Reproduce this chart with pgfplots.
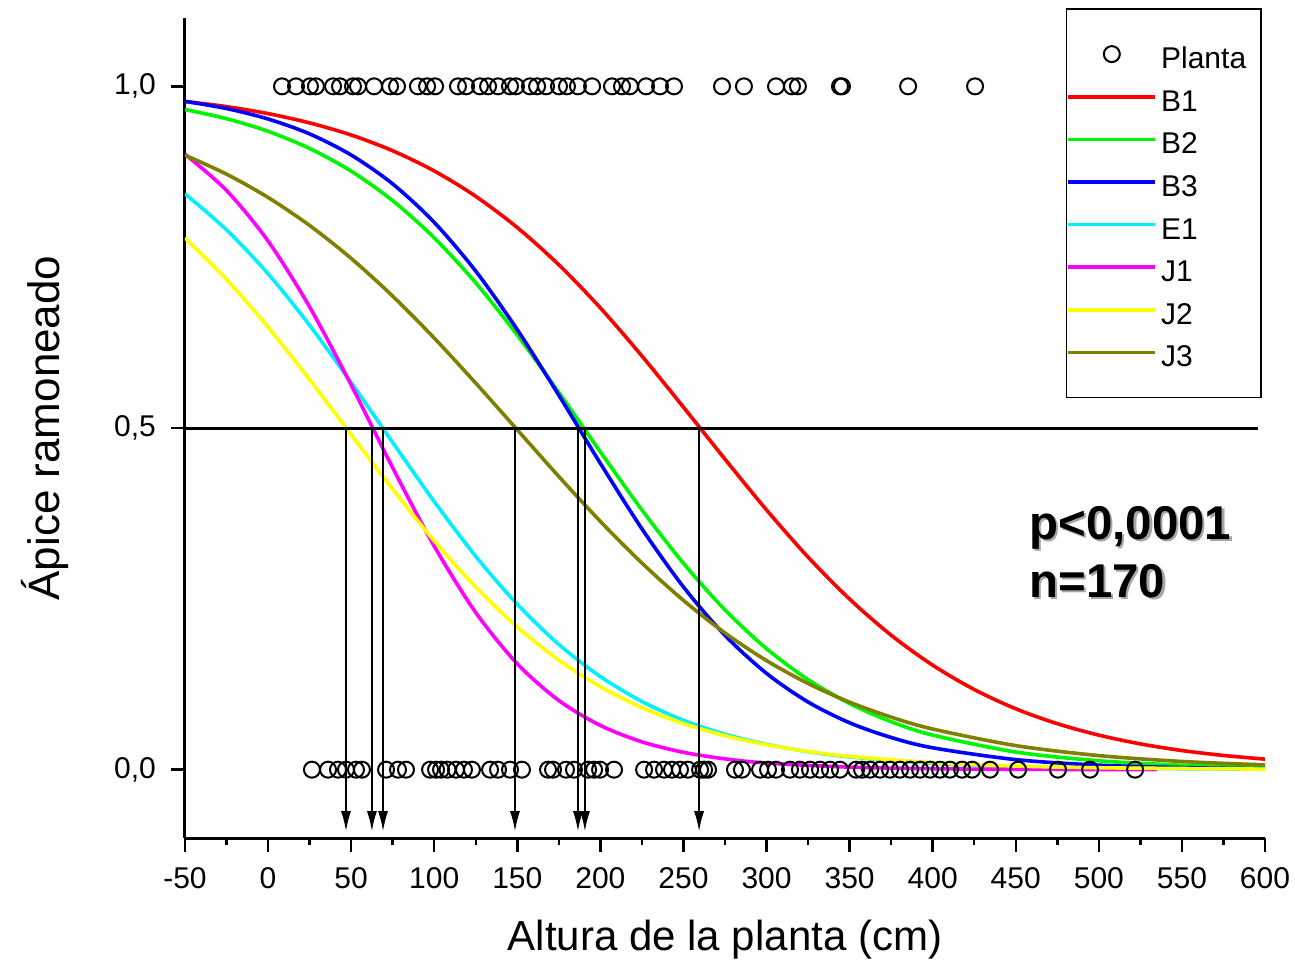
\documentclass[border=0pt]{standalone}
\usepackage{fontspec}
\setmainfont{Liberation Sans}
\usepackage{pgfplots}
\pgfplotsset{compat=1.18}
\usetikzlibrary{arrows.meta}
\definecolor{cB1}{RGB}{255,0,0}
\definecolor{cB2}{RGB}{0,245,0}
\definecolor{cB3}{RGB}{0,0,255}
\definecolor{cE1}{RGB}{0,240,255}
\definecolor{cJ1}{RGB}{255,0,255}
\definecolor{cJ2}{RGB}{255,255,0}
\definecolor{cJ3}{RGB}{128,128,0}
\begin{document}
\begin{tikzpicture}
\begin{axis}[name=ax, scale only axis, width=540pt, height=410pt,
 xmin=-50, xmax=600, ymin=-0.1, ymax=1.1,
 axis lines=left, axis line style={line width=1.5pt, -},
 xtick={-50,0,...,600}, minor xtick={-25,25,...,575},
 ytick={0,0.5,1},
 tick align=outside, major tick length=7pt, minor tick length=3.5pt,
 every tick/.style={black, line width=1.2pt},
 /pgf/number format/assume math mode=true,
 xticklabel style={font=\fontsize{15}{15}\selectfont, anchor=north, yshift=-4pt},
 yticklabel style={font=\fontsize{15}{15}\selectfont, anchor=east, xshift=-4pt,
   /pgf/number format/.cd, fixed, fixed zerofill, precision=1, use comma},
 xlabel={Altura de la planta (cm)},
 ylabel={Ápice ramoneado},
 xlabel style={font=\fontsize{21}{21}\selectfont, at={(axis description cs:0.5,-0.1244)}, anchor=center},
 ylabel style={font=\fontsize{22}{22}\selectfont, at={(axis description cs:-0.1296,0.5)}, anchor=center, rotate=0},
 legend image code/.code={\draw[mark repeat=2,mark phase=2,#1] plot coordinates {(0pt,0pt) (21.75pt,0pt) (43.5pt,0pt)};},
 legend cell align=left,
 legend style={at={(rel axis cs:1,1)}, anchor=north east, xshift=-1.5pt, yshift=5pt,
   draw=black, line width=0.8pt, inner xsep=0pt, inner ysep=12pt,
   font=\fontsize{15}{15}\selectfont,
   nodes={text height=14.5pt, text depth=0pt, inner ysep=3.4pt, inner xsep=2pt}},
]
\addplot[only marks, mark=o, black, mark size=4pt, mark options={line width=1pt}] coordinates {
(8.4,1) (16.8,1) (25.2,1) (28.8,1) (39.1,1) (43.3,1) (51.1,1) (54.1,1) (63.8,1) (73.4,1)
(77.6,1) (90.2,1) (95.7,1) (100.5,1) (114.3,1) (119.2,1) (127.5,1) (132.4,1) (138.4,1) (145.6,1)
(149.2,1) (157.6,1) (161.9,1) (167.3,1) (175.1,1) (179.9,1) (186.5,1) (195,1) (207,1) (213,1)
(217.8,1) (227.5,1) (235.9,1) (244.3,1) (273.2,1) (286.4,1) (305.7,1) (315.3,1) (318.9,1) (344.2,1)
(345.4,1) (385.2,1) (425.5,1)
(26.4,0) (36.1,0) (42.1,0) (46.9,0) (52.9,0) (56.5,0) (71,0) (78.2,0) (83,0) (97.5,0)
(101.1,0) (104.1,0) (108,0) (113.1,0) (117.9,0) (122.7,0) (133.6,0) (138.4,0) (145.6,0) (152.8,0)
(168.5,0) (171.5,0) (179.3,0) (184.1,0) (192.6,0) (196.2,0) (199.8,0) (208.2,0) (226.3,0) (232.3,0)
(238.3,0) (243.1,0) (247.9,0) (252.7,0) (260,0) (262.4,0) (264.8,0) (281,0) (285.2,0) (296.1,0)
(300.9,0) (305.7,0) (314.1,0) (320.1,0) (326.2,0) (332.2,0) (338.2,0) (344.2,0) (353.9,0) (357.5,0)
(362.3,0) (368.3,0) (374.3,0) (380.3,0) (386.4,0) (392.4,0) (398.4,0) (404.4,0) (410.4,0) (417.7,0)
(423.7,0) (434.5,0) (451.4,0) (475.4,0) (494.7,0) (521.8,0)
};
\addlegendentry{Planta\rule{5.5pt}{0pt}}
\addplot[cB1, line width=1.8pt, smooth] coordinates {
(-50,0.9779) (-25,0.9703) (0,0.9601) (25,0.9465) (50,0.9288) (75,0.9057) (100,0.8762) (125,0.8390)
(150,0.7933) (175,0.7388) (200,0.6757) (225,0.6054) (250,0.5305) (275,0.4544) (300,0.3801) (325,0.3111)
(350,0.2496) (375,0.1968) (400,0.1529) (425,0.1173) (450,0.0891) (475,0.0673) (500,0.0505) (525,0.0377)
(550,0.0280) (575,0.0208) (600,0.0154)};
\addlegendentry{B1}
\addplot[cB2, line width=1.8pt, smooth] coordinates {
(-50,0.9661) (-25,0.9526) (0,0.9342) (25,0.9091) (50,0.8759) (75,0.8327) (100,0.7783) (125,0.7124)
(150,0.6360) (175,0.5520) (200,0.4651) (225,0.3801) (250,0.3020) (275,0.2338) (300,0.1771) (325,0.1318)
(350,0.0967) (375,0.0702) (400,0.0506) (450,0.0258) (500,0.0130) (550,0.0065) (600,0.0033)};
\addlegendentry{B2}
\addplot[cB3, line width=1.8pt, smooth] coordinates {
(-50,0.9780) (-25,0.9675) (0,0.9522) (25,0.9304) (50,0.8995) (75,0.8572) (100,0.8009) (125,0.7295)
(150,0.6438) (175,0.5479) (200,0.4482) (225,0.3525) (250,0.2674) (275,0.1965) (300,0.1409) (325,0.0990)
(350,0.0686) (375,0.0471) (400,0.0320) (450,0.0147) (500,0.0066) (550,0.0030) (600,0.0013)};
\addlegendentry{B3}
\addplot[cE1, line width=1.8pt, smooth] coordinates {
(-50,0.8427) (-25,0.7900) (0,0.7257) (25,0.6503) (50,0.5666) (75,0.4788) (100,0.3924) (125,0.3122)
(150,0.2420) (175,0.1832) (200,0.1362) (225,0.0998) (250,0.0723) (275,0.0519) (300,0.0371) (325,0.0263)
(350,0.0187) (400,0.0093) (450,0.0046) (500,0.0023) (600,0.0006)};
\addlegendentry{E1}
\addplot[cJ1, line width=1.8pt, smooth] coordinates {
(-50,0.9006) (-25,0.8476) (0,0.7736) (25,0.6772) (50,0.5630) (75,0.4418) (100,0.3271) (125,0.2299)
(150,0.1549) (175,0.1012) (200,0.0647) (225,0.0407) (250,0.0254) (275,0.0158) (300,0.0097) (350,0.0037)
(400,0.0014) (450,0.0005) (535,0.0001)};
\addlegendentry{J1}
\addplot[cJ2, line width=1.8pt, smooth] coordinates {
(-50,0.7781) (-25,0.7175) (0,0.6475) (25,0.5708) (50,0.4903) (75,0.4105) (100,0.3349) (125,0.2672)
(150,0.2087) (175,0.1603) (200,0.1213) (225,0.0909) (250,0.0674) (275,0.0497) (300,0.0365) (325,0.0267)
(350,0.0194) (400,0.0103) (450,0.0054) (500,0.0028) (600,0.0008)};
\addlegendentry{J2}
\addplot[cJ3, line width=1.8pt, smooth] coordinates {
(-50,0.8993) (-25,0.8715) (0,0.8374) (25,0.7964) (50,0.7482) (75,0.6930) (100,0.6316) (125,0.5656)
(150,0.4973) (175,0.4290) (200,0.3633) (225,0.3024) (250,0.2477) (275,0.2000) (300,0.1596) (325,0.1261)
(350,0.0988) (375,0.0769) (400,0.0595) (450,0.0352) (500,0.0206) (550,0.0120) (600,0.0070)};
\addlegendentry{J3}
\addplot[black, line width=1.5pt, forget plot] coordinates {(-50,0.5) (596,0.5)};
\addplot[black, line width=0.75pt, -{Latex[length=10pt,width=5pt]}, forget plot] coordinates {(46.9,0.5) (46.9,-0.09)};
\addplot[black, line width=0.75pt, -{Latex[length=10pt,width=5pt]}, forget plot] coordinates {(62.5,0.5) (62.5,-0.09)};
\addplot[black, line width=0.75pt, -{Latex[length=10pt,width=5pt]}, forget plot] coordinates {(69.2,0.5) (69.2,-0.09)};
\addplot[black, line width=0.75pt, -{Latex[length=10pt,width=5pt]}, forget plot] coordinates {(148.6,0.5) (148.6,-0.09)};
\addplot[black, line width=0.75pt, -{Latex[length=10pt,width=5pt]}, forget plot] coordinates {(186.5,0.5) (186.5,-0.09)};
\addplot[black, line width=0.75pt, -{Latex[length=10pt,width=5pt]}, forget plot] coordinates {(190.7,0.5) (190.7,-0.09)};
\addplot[black, line width=0.75pt, -{Latex[length=10pt,width=5pt]}, forget plot] coordinates {(259.4,0.5) (259.4,-0.09)};
\node[anchor=base west, font=\fontsize{23.7}{24}\selectfont\bfseries, text=black!35, xshift=1.2pt, yshift=-1.2pt] at (axis cs:454,0.337) {p<0,0001};
\node[anchor=base west, font=\fontsize{23.7}{24}\selectfont\bfseries, text=black!35, xshift=1.2pt, yshift=-1.2pt] at (axis cs:454,0.252) {n=170};
\node[anchor=base west, font=\fontsize{23.7}{24}\selectfont\bfseries] at (axis cs:454,0.337) {p<0,0001};
\node[anchor=base west, font=\fontsize{23.7}{24}\selectfont\bfseries] at (axis cs:454,0.252) {n=170};
\end{axis}
\pgfresetboundingbox
\path[use as bounding box] ([xshift=-92.5pt,yshift=-63.5pt]ax.south west) rectangle ([xshift=15pt,yshift=9pt]ax.north east);
\end{tikzpicture}
\end{document}
